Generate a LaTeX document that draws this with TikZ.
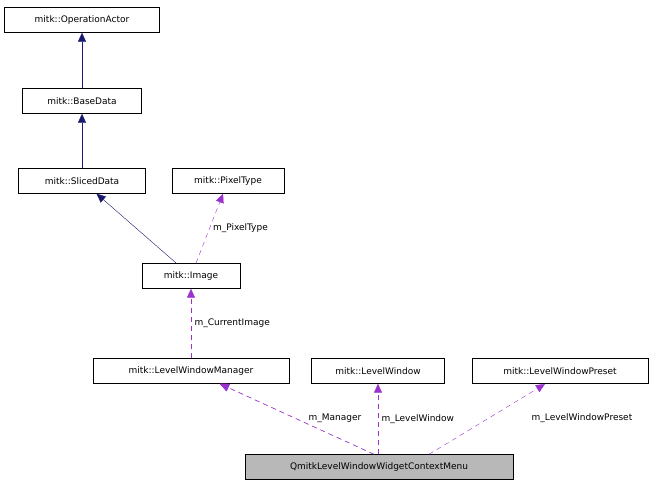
\documentclass[tikz,border=0pt]{standalone}
\usepackage{fontspec}
\setmainfont{DejaVu Sans}
\usetikzlibrary{arrows.meta}
\definecolor{navy}{RGB}{25,25,112}
\definecolor{usecol}{RGB}{154,50,205}
\tikzset{
  cls/.style={draw=black,fill=white,inner sep=0pt,minimum height=25pt,font=\fontsize{9}{10}\selectfont},
  inherit/.style={draw=navy,-{Triangle[length=9pt,width=8pt]}},
  uses/.style={draw=usecol,dashed,dash pattern=on 5pt off 4pt,-{Triangle[length=9pt,width=8pt]}},
  lbl/.style={font=\fontsize{9}{10}\selectfont}
}
\begin{document}
\begin{tikzpicture}[x=1pt,y=-1pt]
	\useasboundingbox (0,0) rectangle (659,488);
	% Draw classes
	\node[cls,minimum width=155pt] (actor)    at (82,20)  {mitk::OperationActor};
	\node[cls,minimum width=119pt] (basedata) at (82,101) {mitk::BaseData};
	\node[cls,minimum width=127pt] (sliced)   at (82,181) {mitk::SlicedData};
	\node[cls,minimum width=112pt] (pixtype)  at (228,181) {mitk::PixelType};
	\node[cls,minimum width=98pt]  (image)    at (191,276) {mitk::Image};
	\node[cls,minimum width=196pt] (manager)  at (191,371) {mitk::LevelWindowManager};
	\node[cls,minimum width=133pt] (lwin)     at (378,371) {mitk::LevelWindow};
	\node[cls,minimum width=176pt] (preset)   at (560,371) {mitk::LevelWindowPreset};
	\node[cls,minimum width=268pt,fill=black!28] (menu) at (379,467) {QmitkLevelWindowWidgetContextMenu};
	% Draw inheritance
	\draw[inherit] (basedata) -- (actor);
	\draw[inherit] (sliced) -- (basedata);
	\draw[inherit] (image) -- (sliced);
	% Draw usage
	\draw[uses] (image) -- (pixtype) node[lbl,pos=0.5,right] {m\_PixelType};
	\draw[uses] (manager) -- (image) node[lbl,pos=0.5,right] {m\_CurrentImage};
	\draw[uses] (menu.north) ++(-5,0) coordinate (m1) (m1) -- (manager.south east -| 220,0) ;
	\draw[uses] (m1) -- (220,384) coordinate (mgr);
	\node[lbl] (l1) at (335,418) {m\_Manager};
	\draw[uses] (menu.north -| lwin) -- (lwin.south) node[lbl,pos=0.5,right] {m\_LevelWindow};
	\draw[uses] (menu.north) ++(50,0) coordinate (m3) (m3) -- (545,384) coordinate (pre);
	\node[lbl] (l3) at (582,418) {m\_LevelWindowPreset};
\end{tikzpicture}
\end{document}
